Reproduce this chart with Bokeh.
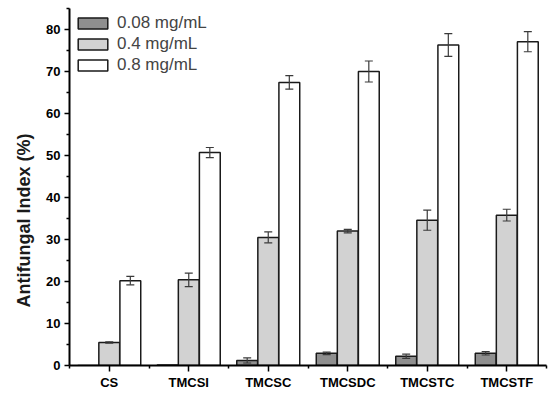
import numpy as np
from bokeh.plotting import figure
from bokeh.models import (ColumnDataSource, FixedTicker, Whisker, TeeHead, Range1d,
                          Legend, LegendItem, Title)
from bokeh.embed import file_html
from bokeh.resources import INLINE

categories = ["CS", "TMCSI", "TMCSC", "TMCSDC", "TMCSTC", "TMCSTF"]
series_names = ["0.08 mg/mL", "0.4 mg/mL", "0.8 mg/mL"]
low_vals = [0.0, 0.1, 1.2, 2.9, 2.2, 2.9]
low_err = [0.0, 0.0, 0.6, 0.3, 0.5, 0.4]
mid_vals = [5.5, 20.4, 30.5, 32.0, 34.6, 35.8]
mid_err = [0.15, 1.6, 1.3, 0.4, 2.4, 1.4]
high_vals = [20.2, 50.7, 67.4, 70.0, 76.3, 77.1]
high_err = [1.0, 1.2, 1.6, 2.5, 2.7, 2.4]
y_ticks = [0, 10, 20, 30, 40, 50, 60, 70, 80]
y_minor = [5, 15, 25, 35, 45, 55, 65, 75, 85]

FONT = "Liberation Sans"
colors = ["#8f8f8f", "#d2d2d2", "#ffffff"]
offsets = [-0.265, 0.0, 0.265]
bw = 0.262

p = figure(frame_width=477, frame_height=357, output_backend="svg", toolbar_location=None,
           x_range=Range1d(0, 6), y_range=Range1d(0, 85), min_border_left=69,
           min_border_top=8, min_border_right=2, min_border_bottom=5)
p.outline_line_color = None
p.xgrid.grid_line_color = None
p.ygrid.grid_line_color = None

centers = np.arange(len(categories)) + 0.5
items = []
for name, vals, errs, col, off in zip(series_names, [low_vals, mid_vals, high_vals],
                                      [low_err, mid_err, high_err], colors, offsets):
    x = centers + off
    v = np.array(vals)
    e = np.array(errs)
    src = ColumnDataSource(dict(x=x, top=v))
    r = p.vbar(x="x", top="top", width=bw, bottom=0, source=src, fill_color=col,
               line_color="#1a1a1a", line_width=1.5)
    items.append(LegendItem(label=name, renderers=[r]))
    mask = e > 0
    wsrc = ColumnDataSource(dict(x=x[mask], upper=(v + e)[mask], lower=(v - e)[mask]))
    w = Whisker(base="x", upper="upper", lower="lower", source=wsrc, level="annotation",
                line_color="#3a3a3a", line_width=1.2,
                upper_head=TeeHead(size=8, line_color="#3a3a3a", line_width=1.2),
                lower_head=TeeHead(size=8, line_color="#3a3a3a", line_width=1.2))
    p.add_layout(w)

legend = Legend(items=items, location="top_left", border_line_color=None,
                background_fill_alpha=0, label_text_font=FONT, label_text_font_size="17px",
                glyph_width=37, glyph_height=14, label_height=14, spacing=1,
                padding=0, margin=5, label_standoff=6)
p.add_layout(legend)

# x axis
p.xaxis.ticker = FixedTicker(ticks=list(centers), minor_ticks=list(range(len(categories) + 1)))
p.xaxis.major_label_overrides = {float(c): cat for c, cat in zip(centers, categories)}
p.xaxis.major_label_text_font = FONT
p.xaxis.major_label_text_font_style = "bold"
p.xaxis.major_label_text_font_size = "13px"
p.xaxis.major_label_text_color = "black"
p.xaxis.major_label_standoff = 3
p.xaxis.major_tick_out = 6
p.xaxis.major_tick_in = 0
p.xaxis.minor_tick_out = 3
p.xaxis.minor_tick_in = 0
p.xaxis.axis_line_width = 2
p.xaxis.major_tick_line_width = 1.5
p.xaxis.minor_tick_line_width = 1.5

# y axis
p.yaxis.ticker = FixedTicker(ticks=y_ticks, minor_ticks=y_minor)
p.yaxis.major_label_text_font = FONT
p.yaxis.major_label_text_font_style = "bold"
p.yaxis.major_label_text_font_size = "13px"
p.yaxis.major_label_text_color = "black"
p.yaxis.major_label_standoff = 4
p.yaxis.major_tick_out = 5
p.yaxis.major_tick_in = 0
p.yaxis.minor_tick_out = 3
p.yaxis.minor_tick_in = 0
p.yaxis.axis_line_width = 2
p.yaxis.major_tick_line_width = 1.5
p.yaxis.minor_tick_line_width = 1.5

ylabel = Title(text="Antifungal Index (%)", align="left", offset=58,
               text_font=FONT, text_font_style="bold", text_font_size="18px",
               text_color="#1a1a1a", standoff=20)
p.add_layout(ylabel, "left")

open("out.html", "w").write(file_html(p, INLINE))
